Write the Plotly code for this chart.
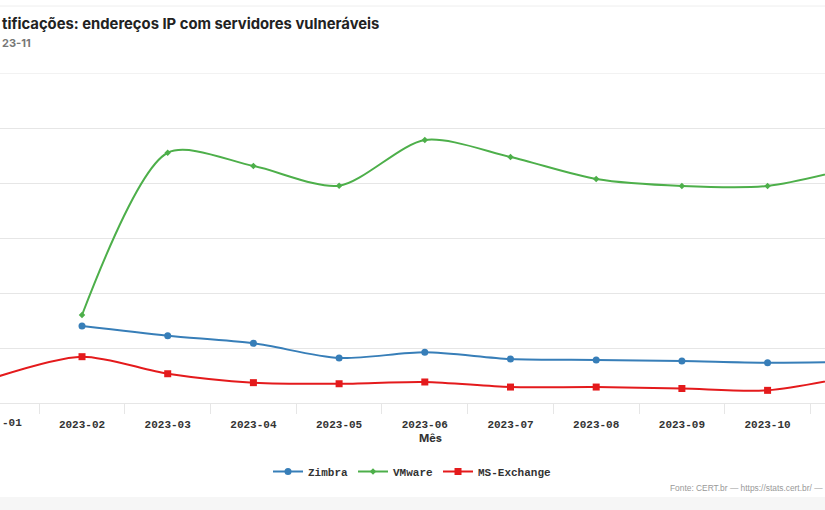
import plotly.graph_objects as go

months = ["2023-01", "2023-02", "2023-03", "2023-04", "2023-05", "2023-06",
          "2023-07", "2023-08", "2023-09", "2023-10", "2023-11"]
zimbra = [None, 700, 612, 543, 409, 461, 400, 391, 382, 366, 373]
vmware = [None, 800, 2275, 2155, 1975, 2391, 2236, 2036, 1973, 1973, 2140]
exchange = [236, 421, 266, 185, 175, 191, 145, 145, 132, 115, 245]

W, H = 825, 510
PT, PB = 73, 403  # plot area top / bottom in px


def py(p):
    return (PB - p) / (PB - PT)


def px(p):
    return p / W


fig = go.Figure()
series = [
    ("Zimbra", zimbra, "#377eb8", "circle", 7),
    ("VMware", vmware, "#4daf4a", "diamond", 5),
    ("MS-Exchange", exchange, "#e41a1c", "square", 7),
]
for name, vals, col, sym, sz in series:
    fig.add_trace(go.Scatter(
        x=months, y=vals, name=name, mode="lines+markers",
        line=dict(color=col, width=2, shape="spline", smoothing=0.8),
        marker=dict(color=col, symbol=sym, size=sz),
        connectgaps=False, cliponaxis=True,
    ))

mono = "Liberation Mono"
fig.update_layout(
    width=W, height=H,
    margin=dict(l=0, r=0, t=PT, b=H - PB, pad=0),
    paper_bgcolor="white", plot_bgcolor="white",
    showlegend=True,
    legend=dict(orientation="h", x=0.5, xanchor="center", y=py(457), yanchor="top",
                font=dict(family=mono, size=11, color="#333333", weight="bold"),
                itemwidth=30, bgcolor="rgba(0,0,0,0)"),
    xaxis=dict(type="category", categoryorder="array", categoryarray=months,
               range=[0.043, 9.67], tickson="boundaries", ticks="outside", ticklen=10,
               tickcolor="#e6e6e6", showline=True, linecolor="#e6e6e6", linewidth=1,
               showgrid=False, zeroline=False, ticklabelstandoff=11,
               tickfont=dict(family=mono, size=11, color="#333333", weight="bold")),
    yaxis=dict(range=[0, 3000], dtick=500, tick0=0, showticklabels=False,
               gridcolor="#e6e6e6", zeroline=False, showline=False, fixedrange=True),
    font=dict(family="Inter"),
)

annotations = [
    dict(text="tificações: endereços IP com servidores vulneráveis", x=0, y=py(24),
         xanchor="left", yanchor="middle",
         font=dict(family="Inter", size=14.8, color="#222222", weight="bold")),
    dict(text="23-11", x=0, y=py(43), xanchor="left", yanchor="middle",
         font=dict(family="Inter", size=11, color="#777777", weight="bold")),
    dict(text="-01", x=0, y=py(423), xanchor="left", yanchor="middle",
         font=dict(family=mono, size=11, color="#333333", weight="bold")),
    dict(text="Mês", x=px(430), y=py(438), xanchor="center", yanchor="middle",
         font=dict(family="Inter", size=11, color="#333333", weight="bold")),
    dict(text="Fonte: CERT.br — https://stats.cert.br/ —", x=1, y=py(488),
         xanchor="right", yanchor="middle",
         font=dict(family="Liberation Sans", size=8.4, color="#999999")),
]
for a in annotations:
    a.update(xref="paper", yref="paper", showarrow=False)
fig.update_layout(annotations=annotations)

fig.update_layout(shapes=[
    dict(type="line", xref="paper", yref="y", x0=0, x1=1, y0=3000, y1=3000,
         line=dict(color="#e6e6e6", width=1), layer="below"),
    dict(type="line", xref="paper", yref="paper", x0=0, x1=1, y0=py(6), y1=py(6),
         line=dict(color="#eeeeee", width=1), layer="below"),
    dict(type="rect", xref="paper", yref="paper", x0=0, x1=1, y0=py(497), y1=py(510),
         fillcolor="#f6f6f6", line=dict(width=0), layer="below"),
])

fig.write_html("out.html")
